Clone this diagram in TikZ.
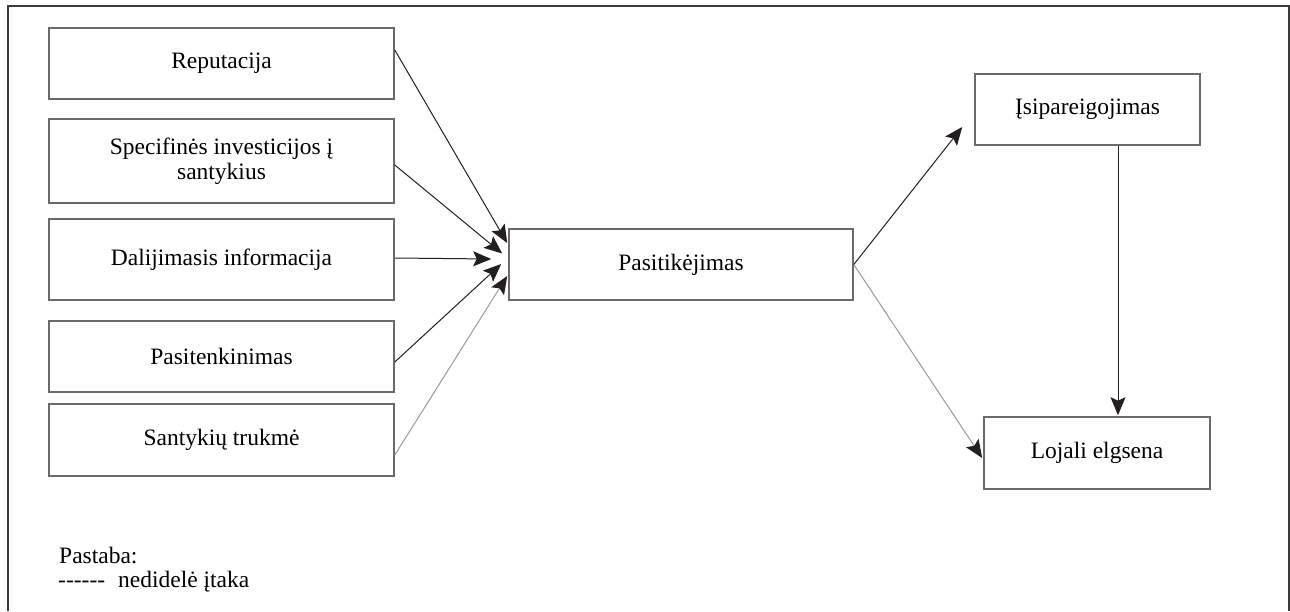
\documentclass[tikz,border=0pt]{standalone}
\usepackage{fontspec}
\setmainfont{Liberation Serif}
\usetikzlibrary{arrows.meta}
\definecolor{frameC}{HTML}{3A3A3A}
\definecolor{boxC}{HTML}{6A6A6A}
\definecolor{arrC}{HTML}{231F20}
\definecolor{lightC}{HTML}{9A9A9A}
\begin{document}
\begin{tikzpicture}[x=1pt,y=-1pt,
  box/.style={draw=boxC, line width=1.6pt, inner sep=0pt, align=center,
    font=\fontsize{23.5}{25}\selectfont, text=black},
  leftbox/.style={box, minimum width=345pt},
  arr/.style={draw=arrC, line width=1pt, -{Stealth[length=18pt,width=15pt,inset=3.5pt]}},
  arrlight/.style={draw=lightC, line width=1pt, -{Stealth[length=18pt,width=15pt,inset=3.5pt,fill=arrC,color=arrC]}},
  frame/.style={draw=frameC, line width=2pt},
  note/.style={anchor=base west, inner sep=0pt, font=\fontsize{23.5}{25}\selectfont}
]
\useasboundingbox (0,0) rectangle (1290,611);
\draw[frame] (8,611) -- (8,6) -- (1289,6) -- (1289,611);

\node[leftbox, minimum height=71pt] (rep) at (221.5,63.5) {Reputacija};
\node[leftbox, minimum height=84pt] (spec) at (221.5,161) {Specifinės investicijos į\\santykius};
\node[leftbox, minimum height=81pt] (dal) at (221.5,259.5) {Dalijimasis informacija};
\node[leftbox, minimum height=71pt] (pat) at (221.5,356.5) {Pasitenkinimas};
\node[leftbox, minimum height=72pt] (san) at (221.5,440) {Santykių trukmė};

\node[box, minimum width=344pt, minimum height=71pt] (pas) at (681,264.5) {Pasitikėjimas};
\node[box, minimum width=225pt, minimum height=71pt] (isi) at (1087.5,109.5) {Įsipareigojimas};
\node[box, minimum width=226pt, minimum height=72pt] (loj) at (1097,453) {Lojali elgsena};

\draw[arr] ([yshift=13.5pt]rep.east) -- ([xshift=-1pt,yshift=21.5pt]pas.west);
\draw[arr] ([yshift=-4pt]spec.east) -- ([xshift=-6pt,yshift=11pt]pas.west);
\draw[arr] ([yshift=1.5pt]dal.east) -- ([xshift=-17pt,yshift=5.5pt]pas.west);
\draw[arr] ([yshift=-5.5pt]pat.east) -- ([xshift=-7pt,yshift=0.5pt]pas.west);
\draw[arrlight] ([yshift=-15pt]san.east) -- ([xshift=-1pt,yshift=-11.5pt]pas.west);

\draw[arr] (pas.east) -- ([xshift=-12pt,yshift=-17.5pt]isi.west);
\draw[arrlight] (pas.east) -- ([xshift=-1pt,yshift=-5pt]loj.west);
\draw[arr] ([xshift=30.5pt]isi.south) -- ([xshift=21pt,yshift=1pt]loj.north);

\node[note] (pastaba) at (59,563) {Pastaba:};
\node[note] (legend) at (58,587) {-{}-{}-{}-{}-{}-\hspace{13pt}nedidelė įtaka};
\end{tikzpicture}
\end{document}
